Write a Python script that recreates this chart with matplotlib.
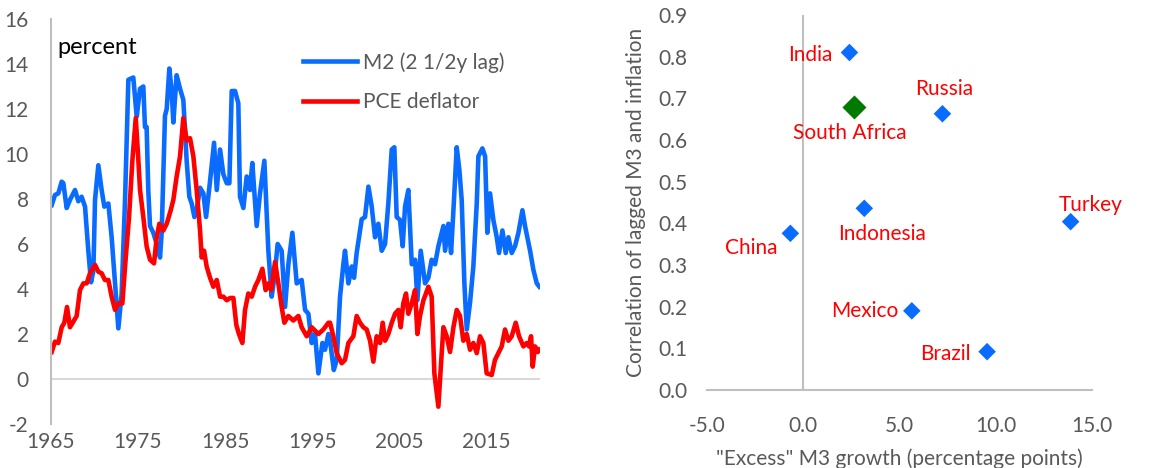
import numpy as np
import matplotlib.pyplot as plt

plt.rcParams['font.family'] = ['Lato', 'DejaVu Sans']
plt.rcParams['axes.unicode_minus'] = False

# left panel: M2 growth (lagged 2.5y) and PCE deflator, percent y/y
m2_years = [1965.08, 1965.46, 1965.84, 1966.23, 1966.42, 1966.80, 1967.18, 1967.76, 1968.14, 1968.52,
            1968.91, 1969.29, 1969.60, 1969.87, 1970.06, 1970.44, 1970.82, 1971.13, 1971.59, 1971.97,
            1972.36, 1972.74, 1973.12, 1973.51, 1973.89, 1974.46, 1974.85, 1975.23, 1975.61, 1975.80,
            1975.99, 1976.18, 1976.38, 1976.76, 1977.15, 1977.53, 1977.72, 1978.10, 1978.30, 1978.60,
            1978.87, 1979.06, 1979.44, 1979.83, 1980.21, 1980.59, 1980.90, 1981.17, 1981.48, 1981.74,
            1982.13, 1982.51, 1982.82, 1983.28, 1983.74, 1984.05, 1984.43, 1984.81, 1985.20, 1985.50,
            1985.77, 1986.15, 1986.53, 1986.72, 1987.11, 1987.49, 1987.87, 1988.14, 1988.64, 1989.02,
            1989.52, 1989.98, 1990.36, 1990.67, 1991.05, 1991.51, 1991.90, 1992.28, 1992.74, 1993.24,
            1993.81, 1994.20, 1994.58, 1994.96, 1995.34, 1995.73, 1996.19, 1996.49, 1996.88, 1997.07,
            1997.30, 1997.50, 1997.84, 1998.22, 1998.60, 1998.79, 1999.18, 1999.56, 1999.83, 2000.13,
            2000.71, 2001.09, 2001.48, 2001.86, 2002.24, 2002.62, 2003.01, 2003.39, 2003.77, 2004.16,
            2004.46, 2004.73, 2005.11, 2005.42, 2005.69, 2006.07, 2006.46, 2006.84, 2007.11, 2007.49,
            2007.99, 2008.37, 2008.75, 2009.14, 2009.52, 2009.90, 2010.10, 2010.29, 2010.67, 2010.98,
            2011.25, 2011.63, 2011.93, 2012.20, 2012.51, 2012.78, 2013.16, 2013.54, 2013.93, 2014.12,
            2014.58, 2014.89, 2015.15, 2015.46, 2015.84, 2016.23, 2016.49, 2016.88, 2017.26, 2017.57,
            2017.95, 2018.33, 2018.72, 2019.18, 2019.48, 2020.06, 2020.44, 2020.83, 2021.13]
m2_vals = [7.73, 8.18, 8.25, 8.77, 8.7, 7.6, 7.96, 8.4, 7.9, 8.1,
           7.66, 5.7, 4.3, 4.8, 7.96, 9.5, 8.4, 7.66, 7.8, 6.3,
           4.25, 2.25, 3.8, 7.96, 13.3, 13.4, 11.66, 12.9, 13.0, 11.2,
           11.2, 8.4, 6.8, 6.5, 6.0, 5.4, 6.5, 11.7, 12.0, 13.8,
           12.8, 11.4, 13.5, 12.9, 12.4, 9.7, 8.1, 7.8, 7.2, 7.5,
           8.5, 8.25, 7.2, 8.8, 10.5, 8.4, 10.2, 9.1, 8.7, 8.7,
           12.8, 12.8, 12.25, 8.1, 7.6, 9.0, 8.4, 9.6, 6.8, 8.25,
           9.7, 5.7, 3.66, 4.5, 6.0, 5.7, 3.2, 5.1, 6.5, 4.25,
           4.4, 3.07, 2.9, 1.6, 2.0, 0.25, 1.6, 1.3, 2.0, 1.7,
           1.0, 0.4, 0.85, 3.66, 5.1, 5.7, 4.25, 5.0, 4.5, 5.6,
           7.1, 7.2, 8.55, 7.66, 6.3, 6.9, 5.7, 6.0, 7.8, 10.2,
           10.3, 7.2, 7.07, 5.9, 7.66, 8.4, 5.1, 5.3, 3.5, 5.7,
           4.25, 4.5, 5.3, 5.1, 5.9, 6.5, 6.8, 5.7, 6.9, 5.6,
           7.5, 10.3, 9.3, 7.96, 4.25, 2.2, 3.4, 5.0, 7.8, 9.9,
           10.25, 9.9, 6.5, 8.25, 7.07, 6.3, 5.6, 6.6, 5.6, 6.3,
           5.6, 5.9, 6.5, 7.5, 6.8, 5.7, 4.85, 4.25, 4.1]

pce_years = [1965.08, 1965.46, 1965.84, 1966.23, 1966.53, 1966.84, 1967.18, 1967.57, 1967.95, 1968.33,
             1968.72, 1969.10, 1969.48, 1970.06, 1970.44, 1970.82, 1971.20, 1971.59, 1971.97, 1972.36,
             1972.74, 1973.20, 1973.59, 1973.97, 1974.35, 1974.74, 1975.00, 1975.23, 1975.61, 1975.99,
             1976.38, 1976.84, 1977.15, 1977.45, 1977.91, 1978.30, 1978.76, 1979.06, 1979.44, 1979.83,
             1980.21, 1980.59, 1980.98, 1981.36, 1981.74, 1982.13, 1982.32, 1982.59, 1982.89, 1983.28,
             1983.66, 1984.05, 1984.43, 1984.81, 1985.20, 1985.58, 1985.96, 1986.30, 1986.60, 1986.99,
             1987.30, 1987.68, 1988.07, 1988.45, 1988.83, 1989.29, 1989.67, 1989.98, 1990.29, 1990.75,
             1991.13, 1991.51, 1991.82, 1992.28, 1992.85, 1993.43, 1993.81, 1994.39, 1994.96, 1995.73,
             1996.30, 1996.88, 1997.07, 1997.45, 1997.84, 1998.41, 1998.79, 1999.18, 1999.75, 2000.13,
             2000.52, 2000.90, 2001.28, 2001.67, 2002.05, 2002.43, 2002.82, 2003.12, 2003.39, 2003.77,
             2004.16, 2004.54, 2004.92, 2005.19, 2005.49, 2005.80, 2006.07, 2006.46, 2006.84, 2007.11,
             2007.41, 2007.80, 2008.00, 2008.37, 2008.75, 2009.06, 2009.52, 2009.83, 2010.10, 2010.48,
             2010.86, 2011.25, 2011.63, 2012.01, 2012.39, 2012.78, 2013.16, 2013.54, 2013.93, 2014.31,
             2014.69, 2015.07, 2015.65, 2016.03, 2016.41, 2016.80, 2017.18, 2017.57, 2017.95, 2018.41,
             2018.79, 2019.29, 2019.67, 2019.94, 2020.17, 2020.36, 2020.63, 2020.94, 2021.13]
pce_vals = [1.2, 1.66, 1.6, 2.3, 2.5, 3.2, 2.3, 2.55, 2.8, 3.95,
            4.25, 4.25, 4.7, 5.07, 4.77, 4.7, 4.4, 4.4, 3.66, 3.07,
            3.36, 3.36, 5.4, 7.2, 9.7, 11.6, 10.0, 8.4, 7.2, 5.9,
            5.3, 5.14, 6.3, 6.9, 6.6, 6.9, 7.5, 7.96, 9.0, 9.9,
            11.6, 10.6, 10.7, 9.9, 8.4, 6.6, 5.4, 5.7, 5.0, 4.5,
            4.1, 4.4, 3.66, 3.66, 3.5, 3.6, 3.6, 2.4, 2.0, 1.6,
            3.07, 3.8, 3.66, 4.1, 4.4, 4.9, 3.95, 4.25, 3.95, 5.2,
            4.25, 3.2, 2.5, 2.8, 2.6, 2.8, 2.3, 1.9, 2.3, 2.0,
            2.2, 2.5, 2.5, 1.9, 1.15, 0.7, 0.85, 1.6, 1.9, 2.8,
            2.5, 2.3, 2.2, 1.7, 0.77, 1.9, 1.6, 2.5, 1.7, 2.0,
            2.5, 2.9, 3.07, 2.3, 3.36, 3.8, 2.9, 3.36, 3.95, 2.0,
            2.8, 3.5, 3.7, 4.1, 3.66, 0.25, -1.23, 0.7, 2.3, 1.9,
            1.2, 2.3, 3.07, 2.8, 1.7, 2.0, 1.3, 1.6, 1.15, 1.9,
            1.6, 0.25, 0.18, 0.85, 1.15, 1.45, 2.2, 1.7, 1.9, 2.5,
            1.9, 1.45, 1.6, 1.45, 1.9, 0.55, 1.45, 1.2, 1.3]

# right panel: excess M3 growth vs correlation of lagged M3 and inflation
countries = ['India', 'South Africa', 'Russia', 'Indonesia', 'Turkey', 'China', 'Mexico', 'Brazil']
excess_m3 = [2.40, 2.66, 7.23, 3.17, 13.89, -0.67, 5.64, 9.55]
corr = [0.81, 0.678, 0.663, 0.436, 0.404, 0.376, 0.190, 0.092]

# label offsets in points and alignment
label_pos = {
    'India': ((-12, -2), 'right'),
    'South Africa': ((-3.6, -18.7), 'center'),
    'Russia': ((1.5, 18), 'center'),
    'Indonesia': ((13, -18.7), 'center'),
    'Turkey': ((14.4, 12.2), 'center'),
    'China': ((-28, -10.8), 'center'),
    'Mexico': ((-10, 0), 'right'),
    'Brazil': ((-11.5, -1.5), 'right'),
}

blue = '#0A6CFF'
red = '#FF0000'
grey_txt = '#595959'
axis_grey = '#BFBFBF'
fs = 15

fig = plt.figure(figsize=(11.66, 4.68), dpi=100)

# ---- left chart ----
ax1 = fig.add_axes([51 / 1166, 1 - 424 / 468, (540 - 51) / 1166, (424 - 19) / 468])
ax1.plot(m2_years, m2_vals, color=blue, lw=3.3, label='M2 (2 1/2y lag)', solid_joinstyle='round')
ax1.plot(pce_years, pce_vals, color=red, lw=3.3, label='PCE deflator', solid_joinstyle='round')
ax1.axhline(0, color='#D9D9D9', lw=1.5, zorder=0)
ax1.set_xlim(1965, 2021.2)
ax1.set_ylim(-2, 16)
ax1.set_yticks(np.arange(-2, 17, 2))
ax1.set_xticks(np.arange(1965, 2020, 10))
ax1.tick_params(length=0, labelsize=fs, labelcolor=grey_txt)
ax1.tick_params(axis='y', pad=16)
ax1.tick_params(axis='x', pad=6)
for s in ['top', 'right', 'bottom']:
    ax1.spines[s].set_visible(False)
ax1.spines['left'].set_color(axis_grey)
ax1.spines['left'].set_linewidth(1.5)
ax1.text(57 / 1166, 1 - 47 / 468, 'percent', transform=fig.transFigure, fontsize=17,
         va='center', ha='left', color='black')
leg = ax1.legend(loc='upper left', bbox_to_anchor=(303 / 1166, 1 - 52 / 468),
                 bbox_transform=fig.transFigure, frameon=False, fontsize=fs,
                 handlelength=2.6, handletextpad=0.3, labelspacing=0.95,
                 borderpad=0, borderaxespad=0)
for t in leg.get_texts():
    t.set_color(grey_txt)

# ---- right chart ----
ax2 = fig.add_axes([707 / 1166, 1 - 390 / 468, (1092 - 707) / 1166, (390 - 15) / 468])
colors = ['#007A00' if c == 'South Africa' else blue for c in countries]
sizes = [150 if c == 'South Africa' else 80 for c in countries]
ax2.scatter(excess_m3, corr, marker='D', c=colors, s=sizes, zorder=3, linewidths=0)
for c, x, y in zip(countries, excess_m3, corr):
    off, ha = label_pos[c]
    ax2.annotate(c, (x, y), xytext=off, textcoords='offset points', ha=ha, va='center',
                 color=red, fontsize=fs)
ax2.axvline(0, color=axis_grey, lw=1.5, zorder=0)
ax2.set_xlim(-5, 15)
ax2.set_ylim(0, 0.9)
ax2.set_xticks(np.arange(-5, 16, 5))
ax2.set_xticklabels(['%.1f' % v for v in np.arange(-5, 16, 5)])
ax2.set_yticks(np.arange(0, 0.91, 0.1))
ax2.set_yticklabels(['%.1f' % v for v in np.arange(0, 0.91, 0.1)])
ax2.tick_params(length=0, labelsize=fs, labelcolor=grey_txt)
ax2.tick_params(axis='y', pad=14)
ax2.tick_params(axis='x', pad=19)
for s in ['top', 'right', 'left']:
    ax2.spines[s].set_visible(False)
ax2.spines['bottom'].set_color(axis_grey)
ax2.spines['bottom'].set_linewidth(1.5)
ax2.set_xlabel('"Excess" M3 growth (percentage points)', fontsize=fs, color=grey_txt, labelpad=9)
ax2.set_ylabel('Correlation of lagged M3 and inflation', fontsize=fs, color=grey_txt, labelpad=9)

fig.savefig('out.png', dpi=100)
